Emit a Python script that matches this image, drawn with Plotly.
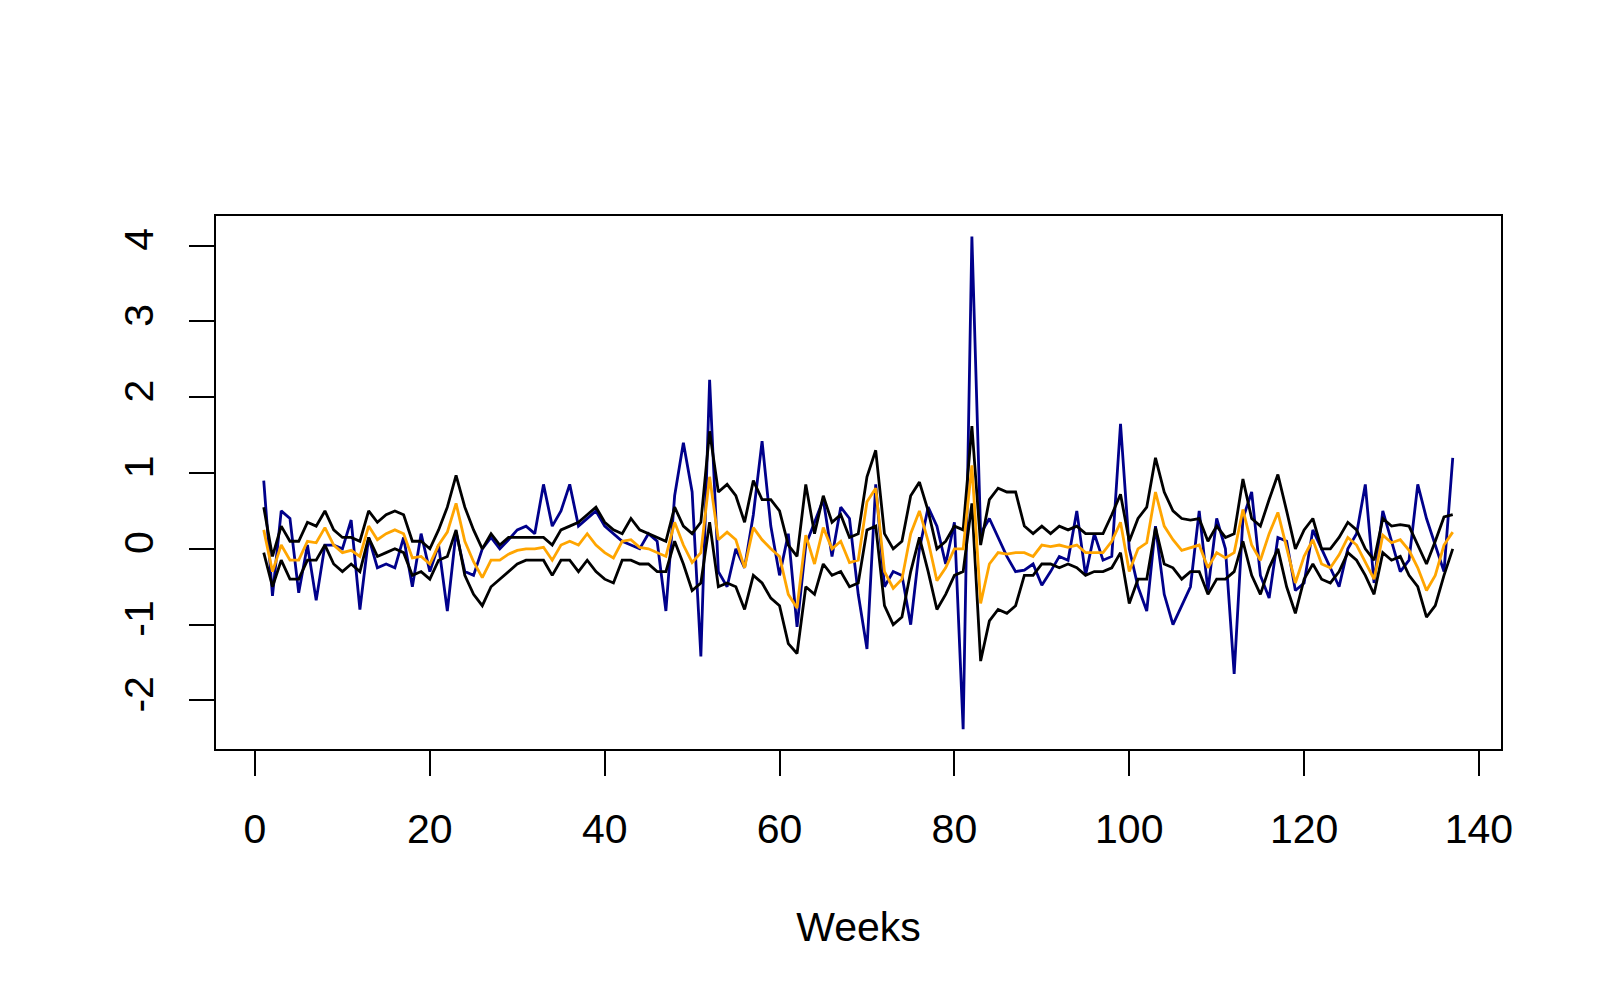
import plotly.graph_objects as go

weeks = list(range(1, 138))

observed = [0.9, -0.62, 0.5, 0.4, -0.58, 0.05, -0.68, 0.05, 0.05, 0.0,
            0.38, -0.8, 0.15, -0.25, -0.2, -0.25, 0.15, -0.5, 0.2, -0.3,
            0.05, -0.82, 0.22, -0.3, -0.35, 0.0, 0.15, 0.0, 0.12, 0.25,
            0.3, 0.2, 0.85, 0.3, 0.5, 0.85, 0.3, 0.4, 0.5, 0.3,
            0.2, 0.1, 0.05, 0.0, 0.2, 0.1, -0.82, 0.7, 1.4, 0.75,
            -1.42, 2.23, -0.3, -0.5, 0.0, -0.25, 0.45, 1.42, 0.3, -0.35,
            0.2, -1.03, 0.05, 0.35, 0.65, -0.1, 0.55, 0.4, -0.6, -1.32,
            0.85, -0.5, -0.3, -0.35, -1.0, 0.0, 0.55, 0.3, -0.2, 0.35,
            -2.38, 4.12, 0.2, 0.4, 0.15, -0.1, -0.3, -0.28, -0.2, -0.48,
            -0.3, -0.1, -0.15, 0.5, -0.35, 0.2, -0.15, -0.1, 1.65, 0.0,
            -0.5, -0.82, 0.3, -0.6, -1.0, -0.75, -0.5, 0.5, -0.55, 0.4,
            0.0, -1.65, 0.4, 0.75, -0.35, -0.65, 0.15, 0.1, -0.55, -0.45,
            0.25, 0.0, -0.25, -0.5, 0.0, 0.2, 0.85, -0.45, 0.5, 0.1,
            -0.3, -0.15, 0.85, 0.4, 0.05, -0.3, 1.2]

upper = [0.55, -0.1, 0.3, 0.1, 0.1, 0.35, 0.3, 0.5, 0.25, 0.15,
         0.15, 0.1, 0.5, 0.35, 0.45, 0.5, 0.45, 0.1, 0.1, 0.0,
         0.25, 0.55, 0.97, 0.55, 0.25, 0.0, 0.2, 0.05, 0.15, 0.15,
         0.15, 0.15, 0.15, 0.05, 0.25, 0.3, 0.35, 0.45, 0.55, 0.35,
         0.25, 0.2, 0.4, 0.25, 0.2, 0.15, 0.1, 0.55, 0.3, 0.2,
         0.35, 1.55, 0.75, 0.85, 0.7, 0.35, 0.9, 0.65, 0.65, 0.5,
         0.05, -0.1, 0.85, 0.2, 0.7, 0.35, 0.45, 0.15, 0.2, 0.95,
         1.3, 0.2, 0.0, 0.1, 0.7, 0.88, 0.5, 0.0, 0.1, 0.3,
         0.25, 1.62, 0.05, 0.65, 0.8, 0.75, 0.75, 0.3, 0.2, 0.3,
         0.2, 0.3, 0.25, 0.3, 0.2, 0.2, 0.2, 0.45, 0.72, 0.1,
         0.4, 0.55, 1.2, 0.75, 0.5, 0.4, 0.38, 0.4, 0.1, 0.3,
         0.15, 0.2, 0.92, 0.4, 0.3, 0.65, 0.98, 0.5, 0.0, 0.25,
         0.4, 0.0, 0.0, 0.15, 0.35, 0.25, 0.0, -0.15, 0.4, 0.3,
         0.32, 0.3, 0.05, -0.2, 0.1, 0.42, 0.45]

lower = [-0.05, -0.5, -0.15, -0.4, -0.4, -0.15, -0.15, 0.05, -0.2, -0.3,
         -0.2, -0.3, 0.15, -0.1, -0.05, 0.0, -0.05, -0.35, -0.3, -0.4,
         -0.15, -0.1, 0.25, -0.35, -0.6, -0.75, -0.5, -0.4, -0.3, -0.2,
         -0.15, -0.15, -0.15, -0.35, -0.15, -0.15, -0.3, -0.15, -0.3, -0.4,
         -0.45, -0.15, -0.15, -0.2, -0.2, -0.3, -0.3, 0.1, -0.2, -0.55,
         -0.45, 0.35, -0.5, -0.45, -0.5, -0.8, -0.35, -0.45, -0.65, -0.75,
         -1.25, -1.38, -0.5, -0.6, -0.2, -0.35, -0.3, -0.5, -0.45, 0.25,
         0.3, -0.75, -1.0, -0.9, -0.3, 0.15, -0.3, -0.8, -0.6, -0.35,
         -0.3, 0.6, -1.48, -0.95, -0.8, -0.85, -0.75, -0.35, -0.35, -0.2,
         -0.2, -0.25, -0.2, -0.25, -0.35, -0.3, -0.3, -0.25, -0.05, -0.72,
         -0.4, -0.4, 0.28, -0.2, -0.25, -0.4, -0.3, -0.3, -0.6, -0.4,
         -0.4, -0.3, 0.1, -0.35, -0.6, -0.25, 0.0, -0.5, -0.85, -0.4,
         -0.2, -0.4, -0.45, -0.3, -0.05, -0.15, -0.35, -0.6, -0.05, -0.15,
         -0.1, -0.35, -0.5, -0.9, -0.75, -0.35, 0.0]

mean_pred = [0.25, -0.3, 0.05, -0.15, -0.15, 0.1, 0.08, 0.28, 0.05, -0.05,
             -0.02, -0.1, 0.3, 0.12, 0.2, 0.25, 0.2, -0.12, -0.1, -0.2,
             0.05, 0.22, 0.6, 0.1, -0.17, -0.38, -0.15, -0.15, -0.07, -0.02,
             0.0, 0.0, 0.02, -0.15, 0.05, 0.1, 0.05, 0.2, 0.05, -0.05,
             -0.12, 0.1, 0.12, 0.02, 0.0, -0.05, -0.1, 0.35, 0.05, -0.18,
             -0.05, 0.95, 0.12, 0.22, 0.12, -0.25, 0.28, 0.12, 0.0, -0.1,
             -0.6, -0.78, 0.18, -0.2, 0.28, 0.0, 0.1, -0.18, -0.15, 0.62,
             0.8, -0.3, -0.52, -0.4, 0.2, 0.5, 0.1, -0.42, -0.25, 0.0,
             0.0, 1.1, -0.72, -0.2, -0.05, -0.07, -0.05, -0.05, -0.1, 0.05,
             0.03, 0.05, 0.02, 0.05, -0.05, -0.05, -0.05, 0.1, 0.35, -0.3,
             0.0, 0.08, 0.75, 0.3, 0.12, -0.02, 0.02, 0.05, -0.25, -0.05,
             -0.12, -0.05, 0.52, 0.05, -0.15, 0.2, 0.48, 0.0, -0.45, -0.1,
             0.12, -0.2, -0.25, -0.08, 0.15, 0.05, -0.18, -0.4, 0.18, 0.08,
             0.12, -0.02, -0.25, -0.55, -0.35, 0.05, 0.22]

x_ticks = [0, 20, 40, 60, 80, 100, 120, 140]
y_ticks = [-2, -1, 0, 1, 2, 3, 4]

line_w = 2.8
fig = go.Figure()
fig.add_trace(go.Scatter(x=weeks, y=observed, mode="lines",
                         line=dict(color="#00008B", width=line_w), name="observed"))
fig.add_trace(go.Scatter(x=weeks, y=upper, mode="lines",
                         line=dict(color="black", width=line_w), name="upper"))
fig.add_trace(go.Scatter(x=weeks, y=lower, mode="lines",
                         line=dict(color="black", width=line_w), name="lower"))
fig.add_trace(go.Scatter(x=weeks, y=mean_pred, mode="lines",
                         line=dict(color="#FFA500", width=line_w), name="mean"))

font_family = "Liberation Sans, Arial, sans-serif"
fig.update_layout(
    width=1600, height=1000,
    margin=dict(l=208, r=107, t=208, b=259),
    paper_bgcolor="white", plot_bgcolor="white",
    showlegend=False,
    font=dict(family=font_family, size=41, color="black"),
    xaxis=dict(
        range=[-4.46, 142.52], tickvals=x_ticks, ticktext=[str(v) for v in x_ticks],
        showgrid=False, zeroline=False, showline=True, mirror=True,
        linecolor="black", linewidth=2, ticks="outside", ticklen=25,
        tickwidth=2, tickcolor="black", tickfont=dict(size=41),
        ticklabelstandoff=18,
        title=dict(text="Weeks", font=dict(size=41), standoff=61),
    ),
    yaxis=dict(
        range=[-2.64, 4.39], tickvals=y_ticks, ticktext=[str(v) for v in y_ticks],
        showgrid=False, zeroline=False, showline=True, mirror=True,
        linecolor="black", linewidth=2, ticks="outside", ticklen=25,
        tickwidth=2, tickcolor="black", tickfont=dict(size=41),
        tickangle=-90, ticklabelstandoff=20,
    ),
)

fig.write_html("out.html")
